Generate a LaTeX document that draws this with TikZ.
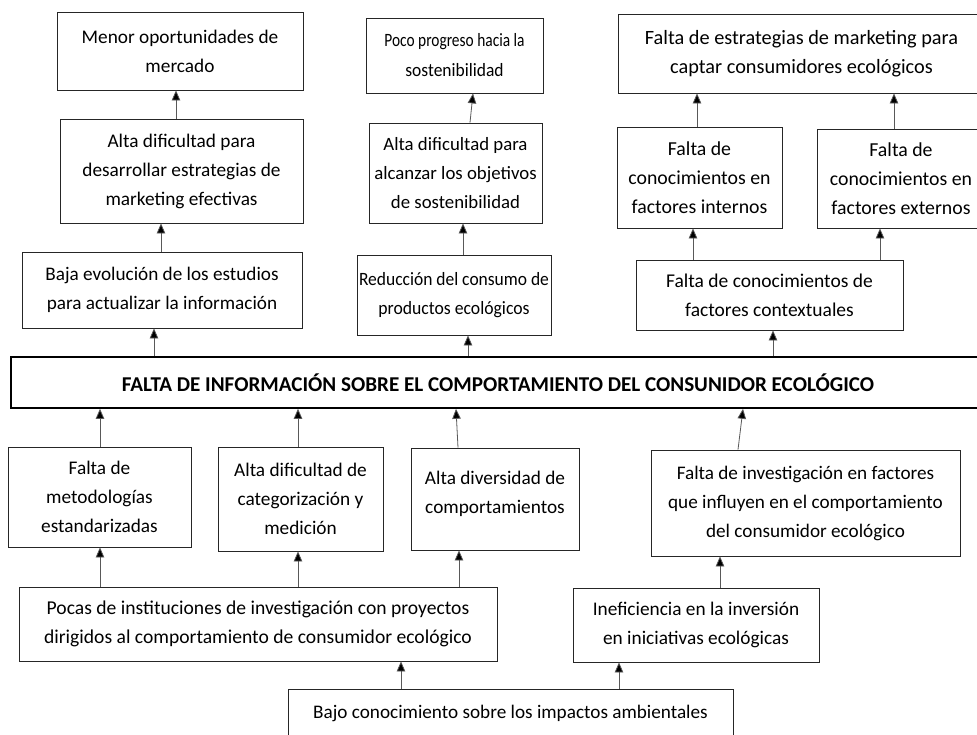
\documentclass[tikz,border=0pt]{standalone}
\usepackage{fontspec}
\setmainfont{Carlito}
\usetikzlibrary{arrows.meta}
\begin{document}
\begin{tikzpicture}[x=1pt,y=-1pt,
  box/.style={draw=black!85, line width=0.8pt, align=center, inner sep=0pt,
    font=\fontsize{19.3}{29}\selectfont},
  fs/.style={font=\fontsize{#1}{29}\selectfont},
  mainbox/.style={box, draw=black, line width=1.6pt, font=\fontsize{21.1}{29}\selectfont\bfseries},
  arr/.style={draw=black!65, line width=0.8pt, -{Triangle[length=10pt,width=8.5pt,fill=black]}}]
\useasboundingbox (0,0) rectangle (977,734);
\clip (0,0) rectangle (977,734);
% top-left column
\node[box, fs=19.3, minimum width=246pt, minimum height=78pt] (m1) at (180,51) {Menor oportunidades de\\mercado};
\node[box, fs=19.3, minimum width=243pt, minimum height=104pt] (m2) at (181.5,171) {Alta dificultad para\\desarrollar estrategias de\\marketing efectivas};
\node[box, fs=19.2, minimum width=280pt, minimum height=76pt] (m3) at (162,290) {Baja evolución de los estudios\\para actualizar la información};
% top-middle column
\node[box, font=\fontsize{18.8}{30}\selectfont, minimum width=177pt, minimum height=75pt] (p1) at (454.5,55.5) {\scalebox{0.82}[1]{Poco progreso hacia la}\\\scalebox{0.93}[1]{sostenibilidad}};
\node[box, fs=18.8, minimum width=173pt, minimum height=100pt] (p2) at (455.5,173) {Alta dificultad para\\alcanzar los objetivos\\de sostenibilidad};
\node[box, fs=18.8, minimum width=194pt, minimum height=80pt] (p3) at (454,295) {\scalebox{0.93}[1]{Reducción del consumo de}\\\scalebox{0.94}[1]{productos ecológicos}};
% top-right
\node[box, fs=20.3, minimum width=367pt, minimum height=79pt] (f1) at (801.5,53.5) {Falta de estrategias de marketing para\\captar consumidores ecológicos};
\node[box, fs=19.8, minimum width=165pt, minimum height=101pt] (f2) at (699.5,177.5) {Falta de\\conocimientos en\\factores internos};
\node[box, fs=19.8, minimum width=168pt, minimum height=99pt] (f3) at (901,178.5) {Falta de\\conocimientos en\\factores externos};
\node[box, fs=19.5, minimum width=267pt, minimum height=70pt] (f4) at (769.5,295) {Falta de conocimientos de\\factores contextuales};
% central problem
\node[mainbox, minimum width=974pt, minimum height=51pt] (c) at (498,382.5) {FALTA DE INFORMACIÓN SOBRE EL COMPORTAMIENTO DEL CONSUNIDOR ECOLÓGICO};
% causes
\node[box, minimum width=183pt, minimum height=100pt] (b1) at (99.5,497) {Falta de\\metodologías\\estandarizadas};
\node[box, minimum width=165pt, minimum height=104pt] (b2) at (300.5,499) {Alta dificultad de\\categorización y\\medición};
\node[box, minimum width=168pt, minimum height=102pt] (b3) at (495,499) {Alta diversidad de\\comportamientos\\[-16pt]\mbox{}};
\node[box, fs=19.2, minimum width=309pt, minimum height=106pt] (b4) at (805.5,503) {Falta de investigación en factores\\que influyen en el comportamiento\\del consumidor ecológico};
\node[box, fs=19.6, minimum width=478pt, minimum height=74pt] (q1) at (258,624) {Pocas de instituciones de investigación con proyectos\\dirigidos al comportamiento de consumidor ecológico};
\node[box, fs=19.3, minimum width=246pt, minimum height=74pt] (q2) at (696,625) {Ineficiencia en la inversión\\en iniciativas ecológicas};
\node[box, fs=19.2, minimum width=445pt, minimum height=48pt] (q3) at (510.5,713) {Bajo conocimiento sobre los impactos ambientales};
% connectors
\draw[arr] (176,0 |- m2.north) -- (176,0 |- m1.south);
\draw[arr] (161,0 |- m3.north) -- (161,0 |- m2.south);
\draw[arr] (154,0 |- c.north) -- (154,0 |- m3.south);
\draw[arr] (470,0 |- p2.north) -- (473,0 |- p1.south);
\draw[arr] (463,0 |- p3.north) -- (463,0 |- p2.south);
\draw[arr] (468,0 |- c.north) -- (468,0 |- p3.south);
\draw[arr] (697,0 |- f2.north) -- (697,0 |- f1.south);
\draw[arr] (894,0 |- f3.north) -- (894,0 |- f1.south);
\draw[arr] (693,0 |- f4.north) -- (693,0 |- f2.south);
\draw[arr] (880,0 |- f4.north) -- (880,0 |- f3.south);
\draw[arr] (773,0 |- c.north) -- (773,0 |- f4.south);
\draw[arr] (100,0 |- b1.north) -- (100,0 |- c.south);
\draw[arr] (298,0 |- b2.north) -- (298,0 |- c.south);
\draw[arr] (458,0 |- b3.north) -- (456,0 |- c.south);
\draw[arr] (738,0 |- b4.north) -- (743,0 |- c.south);
\draw[arr] (100,0 |- q1.north) -- (100,0 |- b1.south);
\draw[arr] (298,0 |- q1.north) -- (298,0 |- b2.south);
\draw[arr] (459,0 |- q1.north) -- (459,0 |- b3.south);
\draw[arr] (720,0 |- q2.north) -- (720,0 |- b4.south);
\draw[arr] (401,0 |- q3.north) -- (401,0 |- q1.south);
\draw[arr] (619,0 |- q3.north) -- (619,0 |- q2.south);
\end{tikzpicture}
\end{document}
